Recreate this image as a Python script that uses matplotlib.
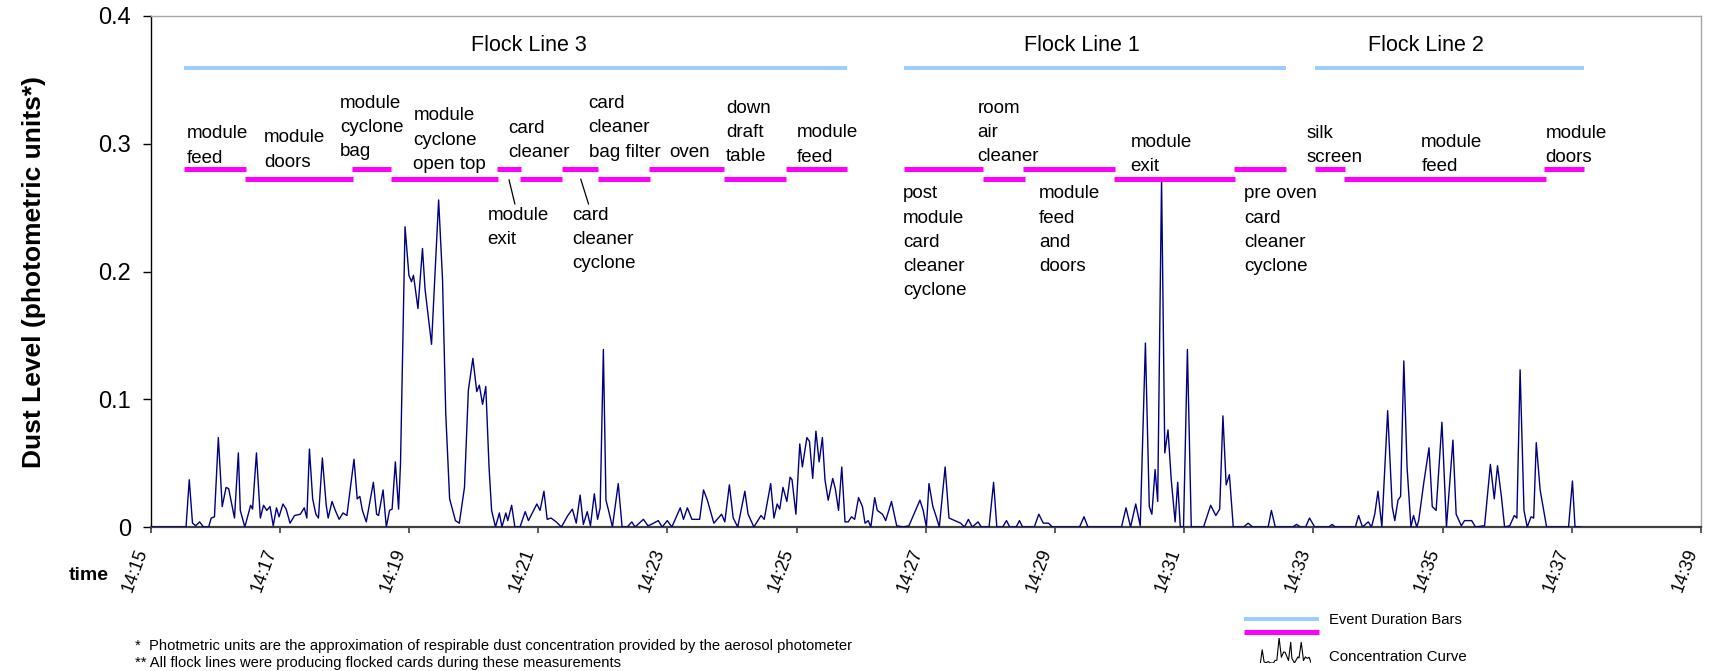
import numpy as np
import matplotlib.pyplot as plt
from matplotlib.lines import Line2D

plt.rcParams.update({
    "font.family": ["Liberation Sans", "DejaVu Sans"],
    "font.size": 13.5,
    "axes.linewidth": 1.0,
})

# dust concentration, minutes after 14:15
t_min = [0.00, 0.55, 0.60, 0.65, 0.70, 0.76, 0.82, 0.90, 0.94, 0.99,
         1.05, 1.11, 1.17, 1.21, 1.30, 1.36, 1.39, 1.46, 1.55, 1.58,
         1.64, 1.70, 1.75, 1.80, 1.85, 1.90, 1.95, 1.99, 2.05, 2.10,
         2.16, 2.23, 2.32, 2.38, 2.42, 2.46, 2.51, 2.56, 2.60, 2.66,
         2.72, 2.75, 2.81, 2.86, 2.92, 2.98, 3.04, 3.15, 3.20, 3.24,
         3.28, 3.34, 3.45, 3.50, 3.53, 3.60, 3.65, 3.70, 3.74, 3.79,
         3.84, 3.87, 3.94, 4.00, 4.04, 4.07, 4.09, 4.14, 4.21, 4.25,
         4.35, 4.46, 4.52, 4.57, 4.63, 4.72, 4.78, 4.86, 4.92, 4.99,
         5.05, 5.09, 5.14, 5.19, 5.24, 5.28, 5.34, 5.40, 5.44, 5.50,
         5.53, 5.59, 5.64, 5.72, 5.80, 5.85, 5.93, 5.98, 6.03, 6.09,
         6.14, 6.20, 6.28, 6.36, 6.46, 6.53, 6.59, 6.65, 6.70, 6.76,
         6.81, 6.87, 6.92, 6.96, 7.01, 7.05, 7.09, 7.15, 7.24, 7.30,
         7.38, 7.45, 7.50, 7.63, 7.70, 7.75, 7.86, 7.92, 8.00, 8.07,
         8.20, 8.25, 8.31, 8.38, 8.50, 8.56, 8.62, 8.72, 8.84, 8.89,
         8.96, 9.02, 9.09, 9.20, 9.25, 9.34, 9.45, 9.50, 9.60, 9.65,
         9.70, 9.74, 9.79, 9.85, 9.90, 9.93, 9.99, 10.05, 10.09, 10.16,
         10.20, 10.25, 10.30, 10.35, 10.40, 10.44, 10.49, 10.56, 10.60, 10.65,
         10.70, 10.75, 10.80, 10.85, 10.90, 10.96, 11.02, 11.06, 11.11, 11.15,
         11.21, 11.25, 11.33, 11.38, 11.47, 11.55, 11.65, 11.74, 11.91, 11.96,
         12.01, 12.05, 12.11, 12.15, 12.21, 12.30, 12.36, 12.45, 12.54, 12.60,
         12.66, 12.72, 12.81, 12.86, 12.98, 13.05, 13.10, 13.19, 13.25, 13.30,
         13.40, 13.45, 13.50, 13.68, 13.75, 13.82, 13.90, 13.96, 14.38, 14.45,
         14.51, 15.03, 15.10, 15.17, 15.25, 15.32, 15.40, 15.46, 15.50, 15.55,
         15.59, 15.65, 15.70, 15.75, 15.80, 15.86, 15.90, 15.94, 15.99, 16.05,
         16.11, 16.30, 16.41, 16.49, 16.55, 16.60, 16.65, 16.70, 16.76, 16.92,
         16.99, 17.06, 17.30, 17.35, 17.41, 17.68, 17.74, 17.80, 17.88, 17.94,
         18.02, 18.24, 18.29, 18.34, 18.65, 18.70, 18.76, 18.85, 18.90, 18.95,
         19.00, 19.06, 19.15, 19.22, 19.26, 19.31, 19.35, 19.40, 19.45, 19.51,
         19.55, 19.60, 19.63, 19.71, 19.79, 19.84, 19.90, 19.99, 20.06, 20.16,
         20.21, 20.29, 20.34, 20.45, 20.51, 20.65, 20.74, 20.80, 20.85, 20.91,
         20.96, 21.04, 21.11, 21.15, 21.20, 21.26, 21.31, 21.37, 21.41, 21.45,
         21.51, 21.61, 21.95, 22.01, 22.05, 22.14]
dust = [0.000, 0.000, 0.037, 0.003, 0.001, 0.004, 0.000, 0.000, 0.007, 0.008,
        0.070, 0.016, 0.031, 0.030, 0.007, 0.058, 0.013, 0.000, 0.017, 0.014,
        0.058, 0.007, 0.017, 0.013, 0.016, 0.001, 0.015, 0.008, 0.018, 0.014,
        0.003, 0.009, 0.010, 0.015, 0.007, 0.061, 0.022, 0.010, 0.007, 0.054,
        0.017, 0.007, 0.020, 0.013, 0.006, 0.011, 0.009, 0.053, 0.022, 0.024,
        0.013, 0.004, 0.035, 0.010, 0.009, 0.029, 0.000, 0.013, 0.014, 0.051,
        0.014, 0.050, 0.235, 0.197, 0.192, 0.197, 0.190, 0.171, 0.218, 0.186,
        0.143, 0.256, 0.194, 0.089, 0.022, 0.005, 0.003, 0.031, 0.107, 0.132,
        0.106, 0.111, 0.096, 0.110, 0.047, 0.013, 0.000, 0.011, 0.000, 0.011,
        0.005, 0.017, 0.000, 0.000, 0.012, 0.005, 0.013, 0.018, 0.013, 0.028,
        0.006, 0.007, 0.004, 0.000, 0.009, 0.014, 0.003, 0.025, 0.002, 0.012,
        0.001, 0.026, 0.006, 0.015, 0.139, 0.021, 0.013, 0.000, 0.034, 0.000,
        0.000, 0.004, 0.000, 0.006, 0.001, 0.002, 0.005, 0.000, 0.005, 0.000,
        0.015, 0.006, 0.015, 0.006, 0.006, 0.029, 0.021, 0.003, 0.010, 0.004,
        0.033, 0.007, 0.000, 0.028, 0.010, 0.000, 0.009, 0.006, 0.034, 0.007,
        0.018, 0.014, 0.031, 0.020, 0.039, 0.037, 0.010, 0.065, 0.047, 0.070,
        0.067, 0.038, 0.075, 0.051, 0.070, 0.037, 0.021, 0.038, 0.030, 0.013,
        0.047, 0.004, 0.004, 0.008, 0.006, 0.023, 0.016, 0.003, 0.005, 0.000,
        0.023, 0.013, 0.010, 0.005, 0.020, 0.001, 0.000, 0.001, 0.021, 0.013,
        0.000, 0.034, 0.016, 0.010, 0.000, 0.047, 0.007, 0.005, 0.003, 0.000,
        0.006, 0.000, 0.004, 0.000, 0.000, 0.035, 0.000, 0.000, 0.005, 0.000,
        0.000, 0.005, 0.000, 0.000, 0.010, 0.003, 0.003, 0.000, 0.000, 0.008,
        0.000, 0.000, 0.015, 0.000, 0.018, 0.001, 0.144, 0.016, 0.010, 0.045,
        0.020, 0.272, 0.058, 0.076, 0.037, 0.004, 0.035, 0.000, 0.000, 0.139,
        0.000, 0.000, 0.017, 0.009, 0.014, 0.087, 0.033, 0.041, 0.000, 0.000,
        0.003, 0.000, 0.000, 0.013, 0.000, 0.000, 0.002, 0.000, 0.000, 0.007,
        0.000, 0.000, 0.002, 0.000, 0.000, 0.009, 0.000, 0.004, 0.000, 0.010,
        0.028, 0.000, 0.091, 0.016, 0.005, 0.021, 0.024, 0.130, 0.047, 0.000,
        0.009, 0.000, 0.005, 0.035, 0.062, 0.016, 0.013, 0.082, 0.000, 0.068,
        0.010, 0.001, 0.005, 0.005, 0.000, 0.001, 0.049, 0.022, 0.048, 0.024,
        0.000, 0.001, 0.009, 0.007, 0.123, 0.013, 0.000, 0.008, 0.007, 0.066,
        0.029, 0.000, 0.000, 0.036, 0.000, 0.000]

tick_minutes = list(range(0, 25, 2))
tick_labels = ["14:15", "14:17", "14:19", "14:21", "14:23", "14:25", "14:27",
               "14:29", "14:31", "14:33", "14:35", "14:37", "14:39"]
y_ticks = [0, 0.1, 0.2, 0.3, 0.4]
y_tick_labels = ["0", "0.1", "0.2", "0.3", "0.4"]

# flock line running periods (minutes after 14:15)
flock_names = ["Flock Line 3", "Flock Line 1", "Flock Line 2"]
flock_start = [0.52, 11.66, 18.02]
flock_end = [10.78, 17.58, 22.19]

# individual events
event_names = ["module\nfeed", "module\ndoors", "module\ncyclone\nbag",
               "module\ncyclone\nopen top", "module\nexit", "card\ncleaner",
               "card\ncleaner\nbag filter", "card\ncleaner\ncyclone", "oven",
               "down\ndraft\ntable", "module\nfeed",
               "post\nmodule\ncard\ncleaner\ncyclone", "room\nair\ncleaner",
               "module\nfeed\nand\ndoors", "module\nexit",
               "pre oven\ncard\ncleaner\ncyclone", "silk\nscreen",
               "module\nfeed", "module\ndoors"]
event_start = [0.52, 1.46, 3.12, 3.73, 5.37, 5.72, 6.37, 6.93, 7.72, 8.87,
               9.83, 11.66, 12.88, 13.51, 14.92, 16.77, 18.02, 18.47, 21.57]
event_end = [1.48, 3.13, 3.73, 5.38, 5.73, 6.37, 6.93, 7.73, 8.87, 9.83,
             10.78, 12.88, 13.53, 14.93, 16.78, 17.58, 18.49, 21.60, 22.19]

# drawing layout for the event bars and their labels
bar_row = [0, 1, 0, 1, 0, 1, 0, 1, 0, 1, 0, 0, 1, 0, 1, 0, 0, 1, 0]
row_y = [0.2800, 0.2725]
flock_y = 0.3590
label_x = [0.56, 1.76, 2.93, 4.07, 5.22, 5.54, 6.78, 6.53, 8.03, 8.91,
           10.01, 11.65, 12.80, 13.75, 15.17, 16.93, 17.89, 19.67, 21.59]
label_y = [0.2820, 0.2790, 0.2872, 0.2772, 0.2506, 0.2862, 0.2868, 0.2506,
           0.2868, 0.2832, 0.2828, 0.2675, 0.2832, 0.2675, 0.2752, 0.2675,
           0.2825, 0.2752, 0.2825]
label_below = [False, False, False, False, True, False, False, True, False,
               False, False, True, False, True, False, True, False, False,
               False]
leaders = {4: ((5.55, 5.64), (0.2717, 0.2529)),
           7: ((6.66, 6.78), (0.2722, 0.2529))}
flock_label_x = [5.85, 14.42, 19.74]
flock_label_y = 0.3768

W, H = 1711, 671
fig = plt.figure(figsize=(W / 100, H / 100), dpi=100)
ax = fig.add_axes([150.5 / W, 1 - 527 / H, (1701 - 150.5) / W, (527 - 16) / H])

ax.plot(t_min, dust, color="#000080", lw=1.0, zorder=3)

for name, s, e, lx in zip(flock_names, flock_start, flock_end, flock_label_x):
    ax.plot([s, e], [flock_y, flock_y], color="#99ccff", lw=2.8,
            solid_capstyle="butt")
    ax.text(lx, flock_label_y, name, fontsize=15.5, ha="center", va="center")

for i, name in enumerate(event_names):
    y = row_y[bar_row[i]]
    ax.plot([event_start[i], event_end[i]], [y, y], color="#ff00ff", lw=3.6,
            solid_capstyle="butt", zorder=4)
    ax.text(label_x[i], label_y[i], name, fontsize=13.5, ha="left",
            va="top" if label_below[i] else "bottom", linespacing=1.56)
    if i in leaders:
        lx, ly = leaders[i]
        ax.plot(lx, ly, color="black", lw=0.9)

ax.set_xlim(0, 24)
ax.set_ylim(0, 0.4)
ax.set_xticks(tick_minutes)
ax.set_xticklabels(tick_labels, rotation=70, ha="right", va="top",
                   fontsize=13)
ax.set_yticks(y_ticks)
ax.set_yticklabels(y_tick_labels, fontsize=17)
ax.tick_params(axis="y", direction="out", length=6, width=1.0, pad=8)
ax.tick_params(axis="x", direction="out", length=4, width=1.2,
               color="#404040", pad=10)

ax.spines["left"].set_color("black")
ax.spines["bottom"].set_color("#404040")
ax.spines["bottom"].set_linewidth(1.6)
for side in ("top", "right"):
    ax.spines[side].set_color("#a6a6a6")

fig.text(34 / W, 1 - 271.5 / H, "Dust Level (photometric units*)",
         rotation=90, ha="center", va="center", fontsize=19,
         fontweight="bold")
fig.text(109 / W, 1 - 575 / H, "time", ha="right", va="center",
         fontsize=14, fontweight="bold")

fig.text(135 / W, 1 - 646 / H,
         "*  Photmetric units are the approximation of respirable dust "
         "concentration provided by the aerosol photometer",
         fontsize=10.6, va="center")
fig.text(135 / W, 1 - 662.5 / H,
         "** All flock lines were producing flocked cards during these "
         "measurements", fontsize=10.6, va="center")

# legend block
fig.add_artist(Line2D([1244 / W, 1318.5 / W], [1 - 618.5 / H] * 2,
                      color="#99ccff", lw=2.8, solid_capstyle="butt"))
fig.add_artist(Line2D([1244 / W, 1318.5 / W], [1 - 631.5 / H] * 2,
                      color="#ff00ff", lw=3.6, solid_capstyle="butt"))
fig.text(1329 / W, 1 - 620 / H, "Event Duration Bars", fontsize=10.6,
         va="center")
fig.text(1329 / W, 1 - 657 / H, "Concentration Curve", fontsize=10.8,
         va="center")
icon = fig.add_axes([1256.6 / W, 1 - 663 / H, 54.4 / W, 25 / H])
t_arr = np.array(t_min)
sel = (t_arr >= 0.45) & (t_arr <= 1.9)
icon.plot(t_arr[sel], np.array(dust)[sel], color="black", lw=0.8)
icon.set_xlim(0.45, 1.9)
icon.set_ylim(0, 0.07)
icon.axis("off")

fig.savefig("out.png", dpi=100)
